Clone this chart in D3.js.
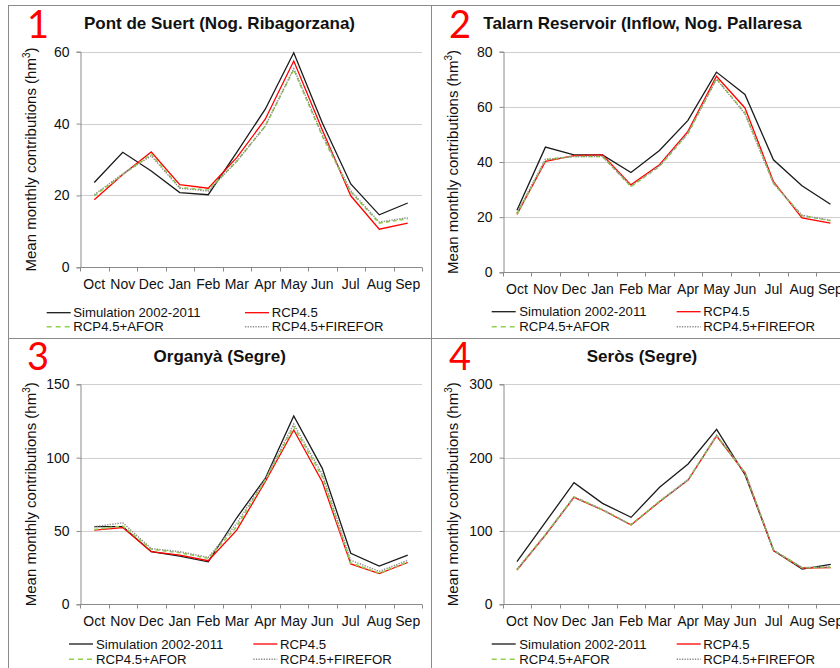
<!DOCTYPE html>
<html>
<head>
<meta charset="utf-8">
<script src="https://cdn.jsdelivr.net/npm/d3@7"></script>
<style>
  html, body { margin: 0; padding: 0; background: #fff; }
  svg { display: block; font-family: "Liberation Sans", Arial, sans-serif; }
</style>
</head>
<body>
<svg id="chart" width="840" height="668"></svg>
<script>
// ---------------- DATA ----------------
const months = ["Oct","Nov","Dec","Jan","Feb","Mar","Apr","May","Jun","Jul","Aug","Sep"];
const seriesNames = ["Simulation 2002-2011","RCP4.5","RCP4.5+AFOR","RCP4.5+FIREFOR"];
const panelNumbers = ["1","2","3","4"];
const panelTitles = [
  "Pont de Suert (Nog. Ribagorzana)",
  "Talarn Reservoir (Inflow, Nog. Pallaresa",
  "Organyà (Segre)",
  "Seròs (Segre)"
];
const yLabel = "Mean monthly contributions (hm";
const yLabelSup = "3";
const yTicks1 = [0, 20, 40, 60];
const yTicks2 = [0, 20, 40, 60, 80];
const yTicks3 = [0, 50, 100, 150];
const yTicks4 = [0, 100, 200, 300];

// Panel 1: Pont de Suert
const p1Sim      = [23.6, 32.0, 26.8, 20.8, 20.2, 32.0, 44.0, 59.7, 40.2, 23.2, 14.6, 17.9];
const p1Rcp      = [18.8, 25.8, 32.1, 23.0, 22.0, 30.5, 41.2, 57.4, 38.3, 19.9, 10.6, 12.3];
const p1Afor     = [19.9, 25.8, 31.5, 22.2, 21.5, 29.5, 39.3, 55.0, 36.5, 21.0, 12.3, 13.5];
const p1Firefor  = [20.2, 26.0, 31.0, 22.0, 21.2, 29.5, 39.3, 55.3, 37.0, 21.3, 12.6, 13.8];
// Panel 2: Talarn Reservoir
const p2Sim      = [22.5, 45.4, 42.6, 42.6, 36.2, 44.2, 55.1, 72.6, 64.5, 40.8, 31.4, 24.7];
const p2Rcp      = [21.0, 40.2, 42.3, 42.6, 31.7, 39.0, 51.1, 71.1, 59.6, 32.9, 19.7, 17.8];
const p2Afor     = [21.0, 40.8, 42.0, 42.0, 31.1, 38.4, 50.3, 70.2, 57.8, 32.3, 20.5, 18.7];
const p2Firefor  = [21.5, 41.0, 42.0, 42.0, 31.3, 38.6, 50.5, 70.0, 57.5, 32.3, 20.7, 18.9];
// Panel 3: Organyà
const p3Sim      = [52.9, 52.9, 35.9, 32.9, 29.0, 59.0, 85.8, 128.4, 92.7, 34.8, 26.1, 33.6];
const p3Rcp      = [50.6, 52.3, 35.9, 33.6, 29.7, 50.6, 83.6, 118.8, 83.6, 27.5, 21.0, 28.5];
const p3Afor     = [51.0, 53.4, 37.5, 35.2, 31.3, 52.9, 84.7, 121.0, 87.0, 28.2, 21.3, 29.0];
const p3Firefor  = [52.9, 55.6, 38.0, 35.9, 32.0, 55.2, 85.5, 122.9, 88.8, 30.0, 22.5, 30.0];
// Panel 4: Seròs
const p4Sim      = [58.1, 112.0, 165.9, 137.7, 118.6, 159.5, 191.3, 238.6, 176.3, 73.1, 48.0, 54.5];
const p4Rcp      = [46.8, 94.5, 145.9, 128.6, 108.1, 139.9, 169.5, 229.5, 178.6, 73.1, 49.5, 50.0];
const p4Afor     = [47.5, 95.0, 146.5, 129.0, 108.5, 140.5, 170.0, 230.0, 179.0, 73.5, 49.8, 50.5];
const p4Firefor  = [47.5, 95.0, 146.5, 129.0, 108.5, 140.5, 170.0, 230.5, 179.5, 73.5, 50.0, 51.0];

// ---------------- STYLES ----------------
const seriesStyles = [
  { color: "#1a1a1a", width: 1.3, dash: null,      legendDash: null },
  { color: "#ff0000", width: 1.3, dash: null,      legendDash: null },
  { color: "#92d050", width: 1.6, dash: "4,3",     legendDash: "5,4" },
  { color: "#8c8c8c", width: 1.4, dash: "1.3,1.3", legendDash: "1.3,1.3" }
];

// ---------------- LAYOUT ----------------
const layouts = [
  { x0: 80,    x1: 422,   yTop: 51.7,  yBot: 267.3, titleX: 219.5, titleY: 29,    numX: 27,  numY: 37.5,
    ylabX: 36,    leg: { l1: 46.7, t1: 73.3, l2: 245,   t2: 271.7, r1: 312.7, r2: 326.7 } },
  { x0: 502.7, x1: 844.7, yTop: 51.7,  yBot: 272.3, titleX: 642.5, titleY: 29,    numX: 449, numY: 37.5,
    ylabX: 457.5, leg: { l1: 491.7, t1: 519.3, l2: 676.7, t2: 703.3, r1: 311.7, r2: 326.7 } },
  { x0: 80,    x1: 422,   yTop: 384.3, yBot: 604.3, titleX: 219.7, titleY: 361.5, numX: 27,  numY: 370,
    ylabX: 36,    leg: { l1: 69,   t1: 96,    l2: 253.3, t2: 280,   r1: 644,   r2: 659.3 } },
  { x0: 502.7, x1: 845,   yTop: 384.3, yBot: 604.3, titleX: 642,   titleY: 361.5, numX: 449, numY: 370,
    ylabX: 457.7, leg: { l1: 491.7, t1: 519.3, l2: 676.7, t2: 703.3, r1: 644,   r2: 659.3 } }
];

const panelSeries = [
  [p1Sim, p1Rcp, p1Afor, p1Firefor],
  [p2Sim, p2Rcp, p2Afor, p2Firefor],
  [p3Sim, p3Rcp, p3Afor, p3Firefor],
  [p4Sim, p4Rcp, p4Afor, p4Firefor]
];
const panelTicks = [yTicks1, yTicks2, yTicks3, yTicks4];

const svg = d3.select("#chart");

// Panel frames
const frame = svg.append("g").attr("stroke", "#8a8a8a").attr("stroke-width", 1).attr("fill", "none");
frame.append("line").attr("x1", 8).attr("x2", 840).attr("y1", 5.5).attr("y2", 5.5);
frame.append("line").attr("x1", 8).attr("x2", 840).attr("y1", 338.5).attr("y2", 338.5);
frame.append("line").attr("x1", 8.5).attr("x2", 8.5).attr("y1", 5.5).attr("y2", 668);
frame.append("line").attr("x1", 431.5).attr("x2", 431.5).attr("y1", 5.5).attr("y2", 668);

panelSeries.forEach((series, pi) => {
  const L = layouts[pi];
  const ticks = panelTicks[pi];
  const g = svg.append("g");

  const x = d3.scaleBand().domain(months).range([L.x0, L.x1]).paddingInner(0).paddingOuter(0);
  const y = d3.scaleLinear().domain([0, ticks[ticks.length - 1]]).range([L.yBot, L.yTop]);

  // gridlines
  g.append("g").selectAll("line").data(ticks.filter(t => t > 0)).join("line")
    .attr("x1", L.x0).attr("x2", L.x1)
    .attr("y1", d => Math.round(y(d)) + 0.5).attr("y2", d => Math.round(y(d)) + 0.5)
    .attr("stroke", "#cfcfcf").attr("stroke-width", 1);

  // y axis
  const yAxis = d3.axisLeft(y).tickValues(ticks).tickSize(4).tickPadding(7).tickFormat(d3.format("d"));
  const ya = g.append("g").attr("transform", `translate(${Math.round(L.x0) + 0.5},0)`).call(yAxis);
  ya.select(".domain").attr("stroke", "#8a8a8a");
  ya.selectAll(".tick line").attr("stroke", "#8a8a8a");
  ya.selectAll(".tick text").attr("font-size", 14).attr("fill", "#111")
    .attr("font-family", "'Liberation Sans', Arial, sans-serif");

  // x axis
  const xa = g.append("g").attr("transform", `translate(0,${Math.round(L.yBot) + 0.5})`);
  xa.append("line").attr("x1", L.x0).attr("x2", L.x1).attr("y1", 0).attr("y2", 0).attr("stroke", "#8a8a8a");
  const bounds = months.map(m => x(m)).concat([x(months[months.length - 1]) + x.bandwidth()]);
  xa.selectAll("line.tk").data(bounds).join("line").attr("class", "tk")
    .attr("x1", d => Math.round(d) + 0.5).attr("x2", d => Math.round(d) + 0.5)
    .attr("y1", 0).attr("y2", 4).attr("stroke", "#8a8a8a");
  xa.selectAll("text").data(months).join("text")
    .attr("x", d => x(d) + x.bandwidth() / 2).attr("y", 21)
    .attr("text-anchor", "middle").attr("font-size", 14).attr("fill", "#111")
    .text(d => d);

  // lines
  const line = d3.line().x((d, i) => x(months[i]) + x.bandwidth() / 2).y(d => y(d));
  series.forEach((vals, si) => {
    const s = seriesStyles[si];
    g.append("path").datum(vals)
      .attr("d", line).attr("fill", "none")
      .attr("stroke", s.color).attr("stroke-width", s.width)
      .attr("stroke-linejoin", "miter")
      .attr("stroke-dasharray", s.dash);
  });

  // title
  svg.append("text").attr("x", L.titleX).attr("y", L.titleY)
    .attr("text-anchor", "middle").attr("font-size", 17).attr("font-weight", "bold").attr("fill", "#111")
    .text(panelTitles[pi]);

  // panel number
  svg.append("text").attr("x", L.numX).attr("y", L.numY)
    .attr("font-size", 38).attr("fill", "#ff0000")
    .attr("font-family", "Lato, 'Open Sans', sans-serif")
    .text(panelNumbers[pi]);

  // y label
  const yl = svg.append("text")
    .attr("transform", `translate(${L.ylabX},${(L.yTop + L.yBot) / 2}) rotate(-90)`)
    .attr("text-anchor", "middle").attr("font-size", 15).attr("fill", "#111");
  yl.append("tspan").text(yLabel);
  yl.append("tspan").attr("font-size", 10).attr("dy", -6).text(yLabelSup);
  yl.append("tspan").attr("dy", 6).text(")");

  // legend
  const lg = L.leg;
  const entries = [
    { lx: lg.l1, tx: lg.t1, y: lg.r1 },
    { lx: lg.l2, tx: lg.t2, y: lg.r1 },
    { lx: lg.l1, tx: lg.t1, y: lg.r2 },
    { lx: lg.l2, tx: lg.t2, y: lg.r2 }
  ];
  entries.forEach((e, si) => {
    const s = seriesStyles[si];
    svg.append("line").attr("x1", e.lx).attr("x2", e.lx + 24).attr("y1", e.y).attr("y2", e.y)
      .attr("stroke", s.color).attr("stroke-width", s.width).attr("stroke-dasharray", s.legendDash);
    svg.append("text").attr("x", e.tx).attr("y", e.y + 4.5)
      .attr("font-size", 13.2).attr("fill", "#111").text(seriesNames[si]);
  });
});
</script>
</body>
</html>
